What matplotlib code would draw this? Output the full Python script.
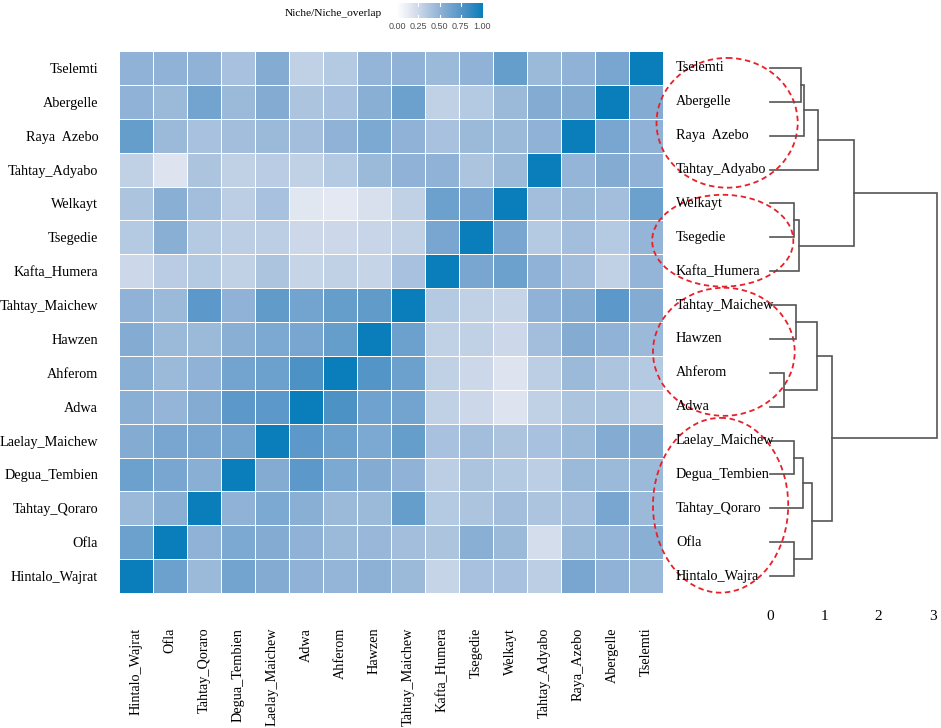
import numpy as np
import matplotlib
matplotlib.use("Agg")
import matplotlib.pyplot as plt
from matplotlib.colors import LinearSegmentedColormap
from matplotlib.patches import Ellipse

plt.rcParams['font.family'] = ['Liberation Serif', 'DejaVu Serif']

# rows of the heatmap, top to bottom
row_labels = ['Tselemti', 'Abergelle', 'Raya  Azebo', 'Tahtay_Adyabo', 'Welkayt',
              'Tsegedie', 'Kafta_Humera', 'Tahtay_Maichew', 'Hawzen', 'Ahferom',
              'Adwa', 'Laelay_Maichew', 'Degua_Tembien', 'Tahtay_Qoraro', 'Ofla',
              'Hintalo_Wajrat']
# columns, left to right
col_labels = ['Hintalo_Wajrat', 'Ofla', 'Tahtay_Qoraro', 'Degua_Tembien',
              'Laelay_Maichew', 'Adwa', 'Ahferom', 'Hawzen', 'Tahtay_Maichew',
              'Kafta_Humera', 'Tsegedie', 'Welkayt', 'Tahtay_Adyabo', 'Raya_Azebo',
              'Abergelle', 'Tselemti']

overlap = np.array([
    [0.50, 0.50, 0.50, 0.40, 0.55, 0.30, 0.35, 0.48, 0.50, 0.45, 0.50, 0.68, 0.45, 0.50, 0.60, 1.00],
    [0.50, 0.45, 0.62, 0.45, 0.55, 0.38, 0.40, 0.52, 0.65, 0.30, 0.35, 0.45, 0.55, 0.55, 1.00, 0.55],
    [0.68, 0.45, 0.40, 0.42, 0.45, 0.42, 0.50, 0.58, 0.50, 0.40, 0.45, 0.45, 0.50, 1.00, 0.60, 0.50],
    [0.30, 0.18, 0.38, 0.30, 0.33, 0.30, 0.35, 0.45, 0.50, 0.50, 0.38, 0.45, 1.00, 0.48, 0.55, 0.50],
    [0.38, 0.52, 0.42, 0.32, 0.40, 0.16, 0.15, 0.20, 0.30, 0.65, 0.60, 1.00, 0.42, 0.45, 0.42, 0.65],
    [0.35, 0.52, 0.35, 0.32, 0.32, 0.25, 0.25, 0.27, 0.30, 0.60, 1.00, 0.60, 0.35, 0.42, 0.35, 0.48],
    [0.25, 0.33, 0.35, 0.30, 0.38, 0.28, 0.30, 0.28, 0.40, 1.00, 0.60, 0.65, 0.50, 0.42, 0.30, 0.48],
    [0.50, 0.45, 0.72, 0.50, 0.70, 0.62, 0.68, 0.70, 1.00, 0.35, 0.30, 0.28, 0.50, 0.55, 0.72, 0.55],
    [0.55, 0.45, 0.45, 0.52, 0.58, 0.60, 0.68, 1.00, 0.65, 0.30, 0.30, 0.25, 0.42, 0.55, 0.50, 0.45],
    [0.52, 0.45, 0.50, 0.62, 0.65, 0.78, 1.00, 0.75, 0.65, 0.30, 0.25, 0.18, 0.32, 0.45, 0.38, 0.35],
    [0.52, 0.48, 0.55, 0.72, 0.72, 1.00, 0.78, 0.64, 0.62, 0.30, 0.25, 0.18, 0.30, 0.38, 0.38, 0.32],
    [0.55, 0.60, 0.60, 0.62, 1.00, 0.72, 0.65, 0.58, 0.68, 0.40, 0.42, 0.38, 0.40, 0.45, 0.55, 0.55],
    [0.65, 0.60, 0.52, 1.00, 0.55, 0.72, 0.58, 0.55, 0.50, 0.32, 0.38, 0.35, 0.32, 0.45, 0.45, 0.45],
    [0.45, 0.52, 1.00, 0.50, 0.58, 0.52, 0.45, 0.45, 0.68, 0.35, 0.38, 0.42, 0.38, 0.42, 0.60, 0.45],
    [0.65, 1.00, 0.50, 0.58, 0.55, 0.50, 0.45, 0.46, 0.42, 0.38, 0.52, 0.45, 0.22, 0.45, 0.48, 0.52],
    [1.00, 0.65, 0.45, 0.62, 0.55, 0.50, 0.48, 0.51, 0.45, 0.28, 0.40, 0.40, 0.32, 0.60, 0.50, 0.45],
])

# dendrogram (leaves top to bottom) and merges: (child a, child b, height)
leaf_labels = ['Tselemti', 'Abergelle', 'Raya  Azebo', 'Tahtay_Adyabo', 'Welkayt',
               'Tsegedie', 'Kafta_Humera', 'Tahtay_Maichew', 'Hawzen', 'Ahferom',
               'Adwa', 'Laelay_Maichew', 'Degua_Tembien', 'Tahtay_Qoraro', 'Ofla',
               'Hintalo_Wajra']
merges = [(0, 1, 0.57), (16, 2, 0.62), (17, 3, 0.88),
          (4, 5, 0.44), (19, 6, 0.53), (18, 20, 1.55),
          (7, 8, 0.48), (9, 10, 0.25), (22, 23, 0.86),
          (11, 12, 0.44), (25, 13, 0.60), (14, 15, 0.44),
          (26, 27, 0.77), (24, 28, 1.14), (21, 29, 3.08)]
dist_ticks = [0, 1, 2, 3]

cbar_ticks = [0.0, 0.25, 0.5, 0.75, 1.0]

cmap = LinearSegmentedColormap.from_list(
    'niche', [(0, '#ffffff'), (0.2, '#d9e0ed'), (0.5, '#8fb2d6'),
              (0.75, '#5595c7'), (1, '#0a7eba')])

fig = plt.figure(figsize=(9.41, 7.28), dpi=100)
fig.patch.set_facecolor('white')

W, H = 941., 728.
def px_axes(x0, y0, x1, y1):
    return fig.add_axes([x0 / W, 1 - y1 / H, (x1 - x0) / W, (y1 - y0) / H])

# heatmap
ax = px_axes(119, 51, 663, 593)
n = len(row_labels)
ax.pcolormesh(np.arange(n + 1), np.arange(n + 1), overlap, cmap=cmap, vmin=0, vmax=1,
              edgecolors='white', linewidth=0.6)
ax.set_xlim(0, n)
ax.set_ylim(n, 0)
ax.set_yticks(np.arange(n) + 0.5)
ax.set_yticklabels(row_labels, fontsize=10.3)
ax.set_xticks(np.arange(n) + 0.5)
ax.set_xticklabels(col_labels, fontsize=10.3, rotation=90, va='top')
ax.tick_params(length=0)
ax.tick_params(axis='y', pad=15)
ax.tick_params(axis='x', pad=25)
for s in ax.spines.values():
    s.set_visible(False)

# dendrogram
dx = px_axes(640, 51, 941, 593)
dx.patch.set_alpha(0)
x0px, unit = 770., 54.3
dx.set_xlim((640 - x0px) / unit, (941 - x0px) / unit)
dx.set_ylim(n, 0)
node_y = {i: i + 0.5 for i in range(n)}
node_h = {i: 0.0 for i in range(n)}
for k, (a, b, h) in enumerate(merges):
    nid = n + k
    dx.plot([node_h[a], h, h, node_h[b]], [node_y[a], node_y[a], node_y[b], node_y[b]],
            color='#555555', lw=1.2, solid_joinstyle='miter', clip_on=False)
    node_y[nid] = (node_y[a] + node_y[b]) / 2
    node_h[nid] = h
for i, lab in enumerate(leaf_labels):
    dx.text(-1.73, i + 0.5, lab, fontsize=10.3, ha='left', va='center')

ellipses = [(-0.79, 2.12, 2.60, 3.83), (-0.87, 5.60, 2.60, 2.71),
            (-0.85, 8.88, 2.61, 3.78), (-0.91, 13.41, 2.49, 5.16)]
for cx, cy, w, h in ellipses:
    dx.add_patch(Ellipse((cx, cy), w, h, fill=False, edgecolor='#e8202a',
                         linestyle=(0, (3, 2)), lw=1.3, clip_on=False))

dx.set_xticks(dist_ticks)
dx.set_xticklabels([str(t) for t in dist_ticks], fontsize=11)
dx.set_yticks([])
dx.tick_params(length=0, pad=12)
for s in dx.spines.values():
    s.set_visible(False)

# colour bar
cax = px_axes(397, 3, 482, 18)
grad = np.linspace(0, 1, 256).reshape(1, -1)
cax.imshow(grad, cmap=cmap, aspect='auto', extent=[0, 1, 0, 1])
for t in cbar_ticks[1:-1]:
    cax.plot([t, t], [0, 0.2], color='white', lw=0.8)
    cax.plot([t, t], [0.8, 1], color='white', lw=0.8)
cax.set_xlim(0, 1)
cax.set_ylim(0, 1)
cax.set_yticks([])
cax.set_xticks(cbar_ticks)
cax.set_xticklabels(['%.2f' % t for t in cbar_ticks], fontsize=6.5,
                    family=['Liberation Sans', 'DejaVu Sans'], color='#4d4d4d')
cax.tick_params(length=0, pad=3)
for s in cax.spines.values():
    s.set_visible(False)
fig.text(285 / W, 1 - 14 / H, 'Niche/Niche_overlap', fontsize=8.2, ha='left', va='center')

fig.savefig('out.png', dpi=100)
